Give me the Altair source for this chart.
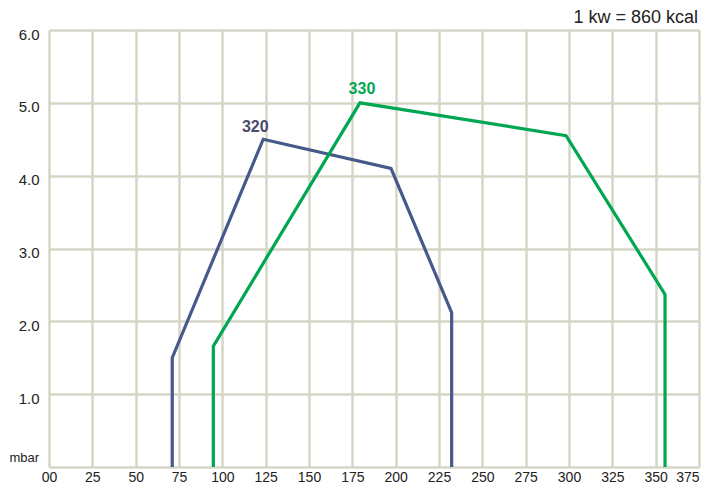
import altair as alt
import pandas as pd

# Burner working curves (x: kW, y: mbar)
x320 = [71.1, 71.1, 123.6, 197.3, 232.3, 232.3]
y320 = [0.0, 1.50, 4.50, 4.10, 2.12, 0.0]
x330 = [94.8, 94.8, 179.4, 298.3, 355.4, 355.4]
y330 = [0.0, 1.66, 5.00, 4.55, 2.37, 0.0]

x_ticks = list(range(0, 376, 25))
y_ticks = [i * 0.5 for i in range(13)]

BLUE = "#45598a"
GREEN = "#00a651"
GRID = "#d6d6c6"

df = pd.DataFrame(
    {"x": x320 + x330,
     "y": y320 + y330,
     "model": ["320"] * len(x320) + ["330"] * len(x330),
     "order": list(range(len(x320))) + list(range(len(x330)))}
)

labels = pd.DataFrame({"x": [123.6, 179.4], "y": [4.50, 5.00], "model": ["320", "330"]})
notes = pd.DataFrame({"x": [375], "y": [6.0], "t": ["1 kw = 860 kcal"]})
unit = pd.DataFrame({"x": [0], "y": [0.0], "t": ["mbar"]})

xs = alt.Scale(domain=[0, 375], nice=False, zero=False)
ys = alt.Scale(domain=[0, 6], nice=False)

xaxis = alt.Axis(values=x_ticks, title=None, domain=False, ticks=False,
                 grid=True, gridColor=GRID, gridWidth=2.5, gridOpacity=1,
                 labelFont="Liberation Sans", labelFontSize=14, labelColor="#222",
                 labelPadding=3, labelFlush=False,
                 labelAlign={"condition": {"test": "datum.value == 375", "value": "right"}, "value": "center"},
                 labelExpr="datum.value == 0 ? '00' : datum.label")
yaxis = alt.Axis(values=y_ticks, title=None, domain=False, ticks=False,
                 grid=True, gridColor=GRID, gridWidth=2.5, gridOpacity=1,
                 labelFont="Liberation Sans", labelFontSize=15, labelColor="#222",
                 labelPadding=10, labelOffset=4,
                 labelExpr="(datum.value % 1 == 0 && datum.value > 0) ? format(datum.value, '.1f') : ''")

color = alt.Color("model:N", scale=alt.Scale(domain=["320", "330"], range=[BLUE, GREEN]), legend=None)

lines = alt.Chart(df).mark_line(strokeWidth=3.2, strokeJoin="miter").encode(
    x=alt.X("x:Q", scale=xs, axis=xaxis),
    y=alt.Y("y:Q", scale=ys, axis=yaxis),
    order="order:Q",
    detail="model:N",
    color=color,
)

lab320 = alt.Chart(labels[labels.model == "320"]).mark_text(
    font="Liberation Sans", fontSize=16, fontWeight="bold", color="#4a4a6c", dx=-8, dy=-12
).encode(x=alt.X("x:Q", scale=xs), y=alt.Y("y:Q", scale=ys), text="model:N")

lab330 = alt.Chart(labels[labels.model == "330"]).mark_text(
    font="Liberation Sans", fontSize=16, fontWeight="bold", color=GREEN, dx=2, dy=-14
).encode(x=alt.X("x:Q", scale=xs), y=alt.Y("y:Q", scale=ys), text="model:N")

note = alt.Chart(notes).mark_text(
    font="Liberation Sans", fontSize=18, color="#222", align="right", dx=-1, dy=-12
).encode(x=alt.X("x:Q", scale=xs), y=alt.Y("y:Q", scale=ys), text="t:N")

unit_t = alt.Chart(unit).mark_text(
    font="Liberation Sans", fontSize=13, color="#222", align="right", dx=-10, dy=-9
).encode(x=alt.X("x:Q", scale=xs), y=alt.Y("y:Q", scale=ys), text="t:N")

chart = alt.layer(lines, lab320, lab330, note, unit_t).properties(
    width=650, height=437,
    autosize=alt.AutoSizeParams(type="none"),
    padding={"left": 41, "top": 22, "right": 2, "bottom": 16},
).configure_view(stroke=None)

chart.save("out.html", embed_options={"renderer": "svg", "actions": False})
